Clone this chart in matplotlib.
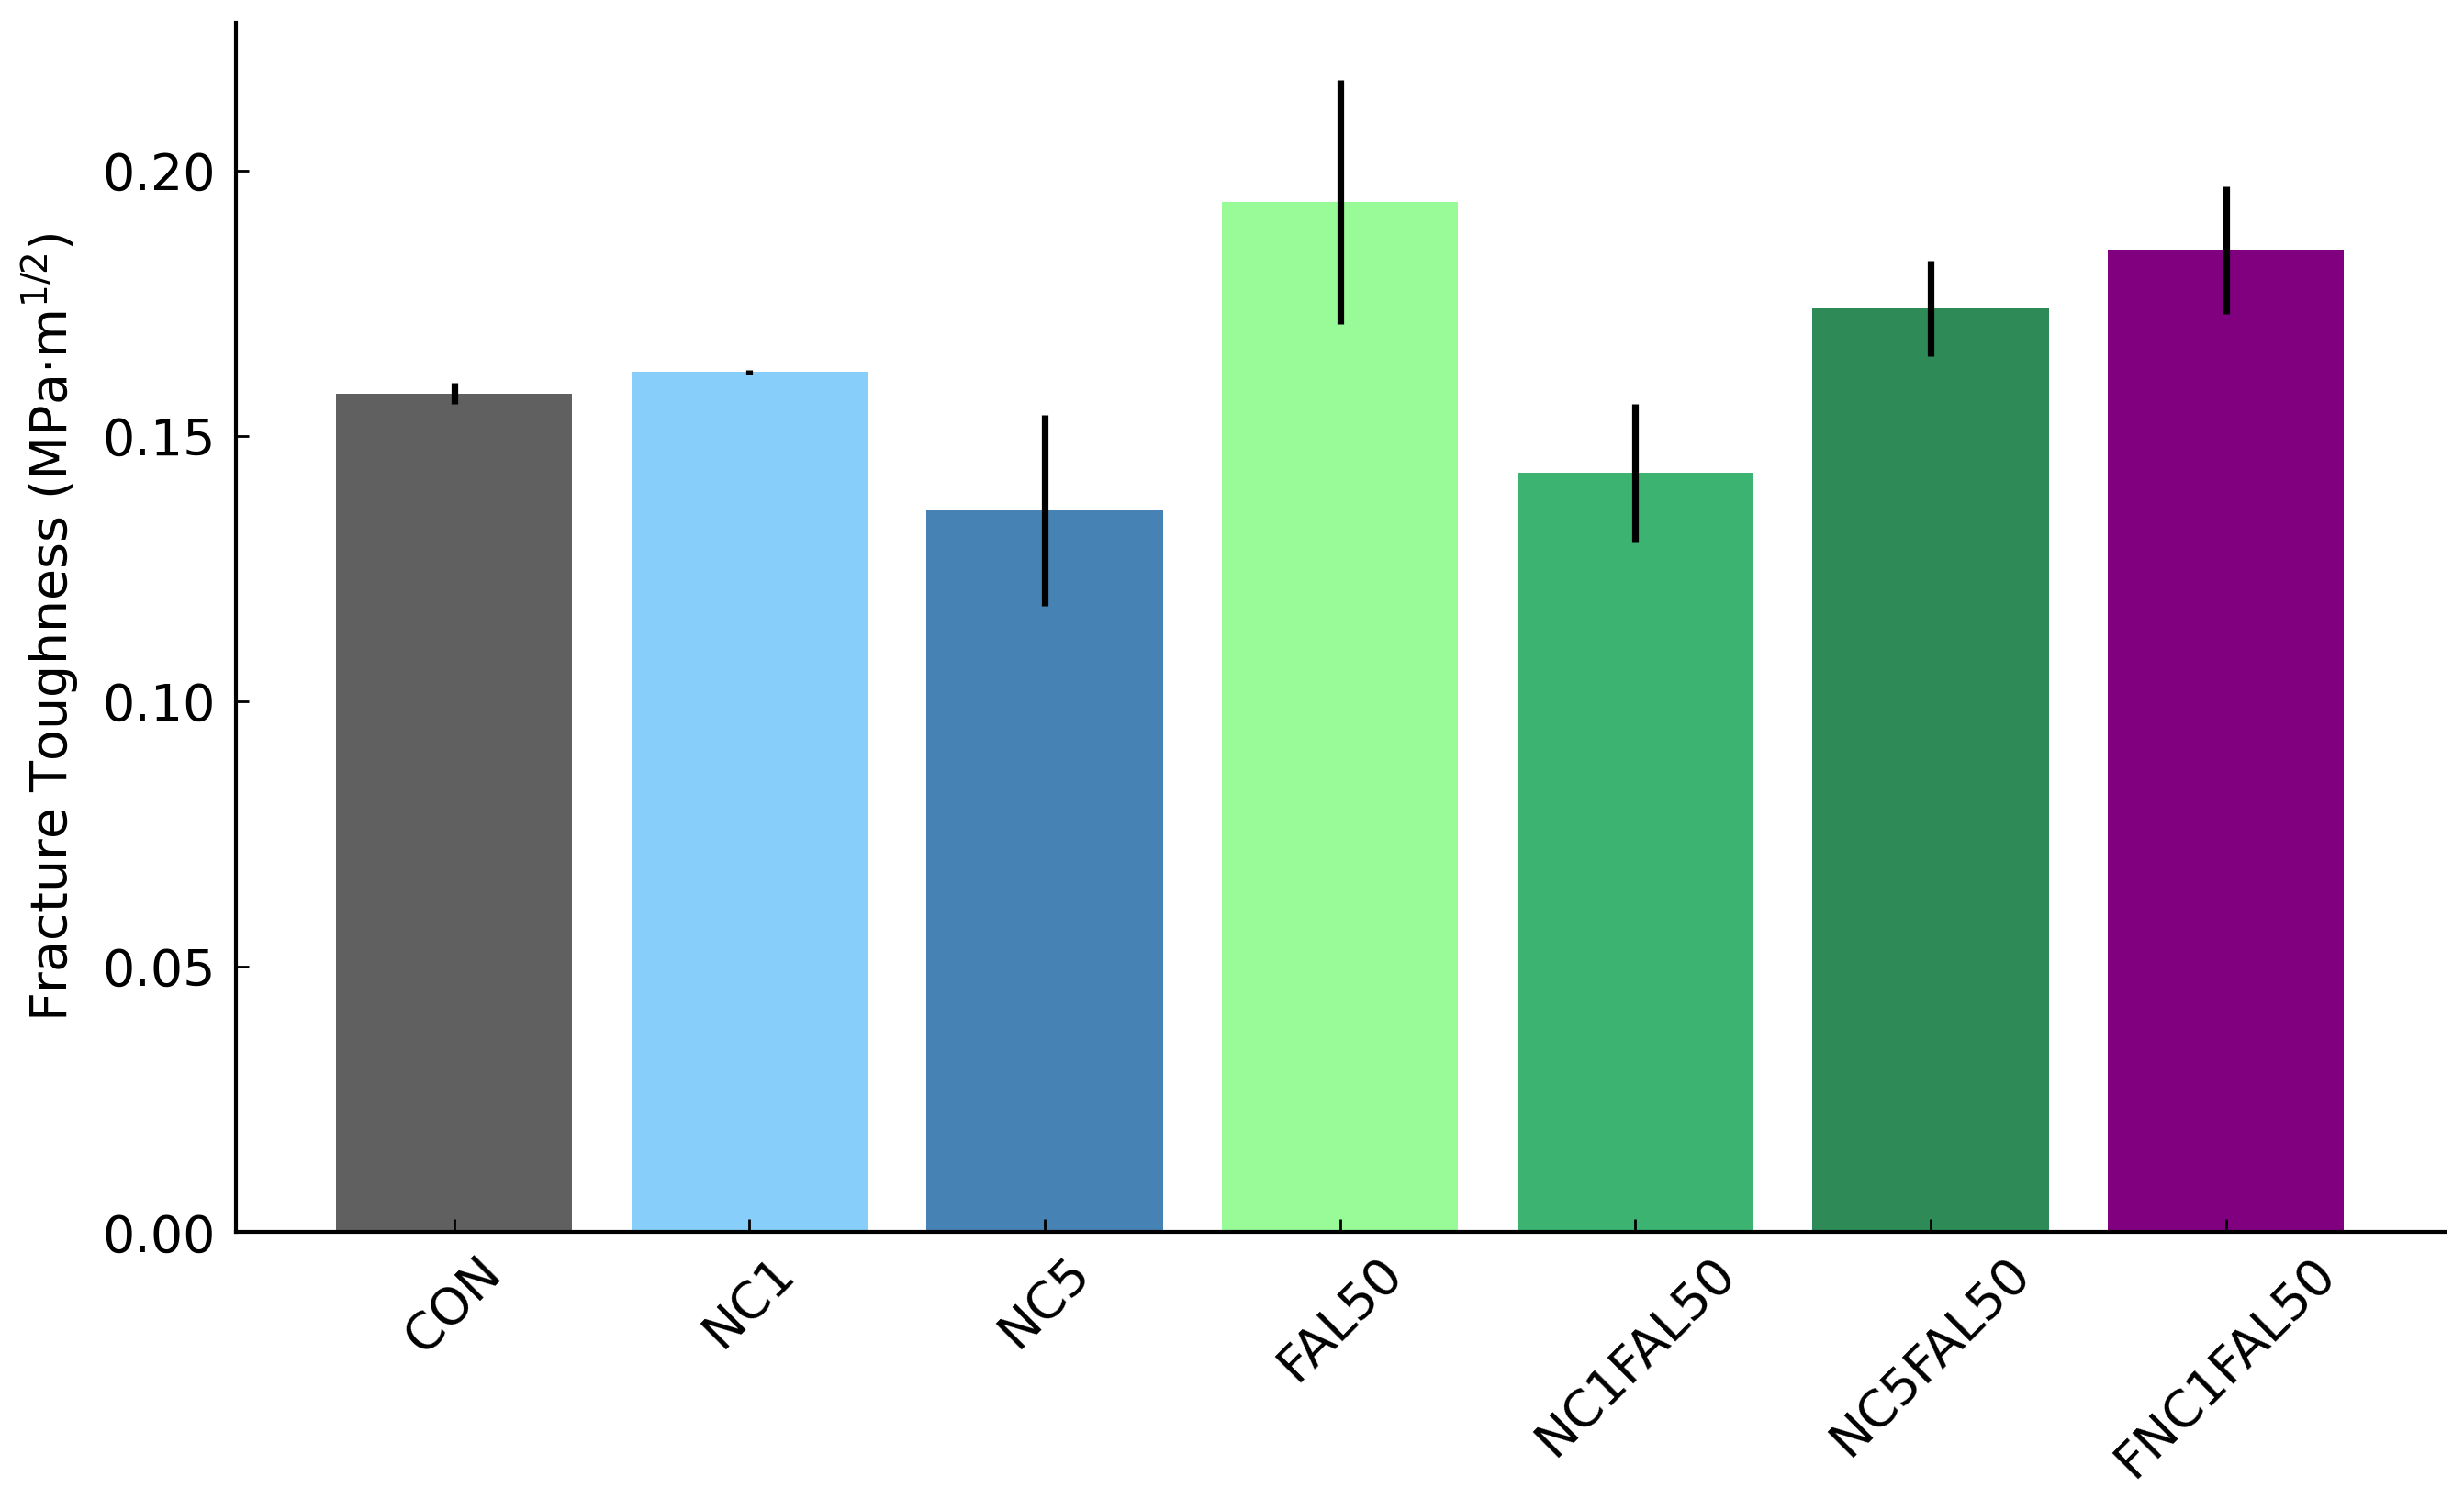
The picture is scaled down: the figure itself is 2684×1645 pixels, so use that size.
import matplotlib
matplotlib.use("Agg")
from matplotlib import pyplot as plt
import numpy as np

groups = ["CON", "NC1", "NC5", "FAL50", "NC1FAL50", "NC5FAL50", "FNC1FAL50"]
toughness = [0.158, 0.162, 0.136, 0.194, 0.143, 0.174, 0.185]
errors = [0.002, 0.0005, 0.018, 0.023, 0.013, 0.009, 0.012]
colors = ["#606060", "#87CEFA", "#4682B4", "#98FB98", "#3CB371", "#2E8B57", "#800080"]

fig, ax = plt.subplots(figsize=(13.42, 8.225), dpi=200)
fig.subplots_adjust(left=0.0957, right=0.992, top=0.985, bottom=0.184)

x = np.arange(len(groups))
ax.bar(x, toughness, width=0.8, color=colors, yerr=errors,
       error_kw=dict(ecolor="black", elinewidth=2.6, capsize=0))

ax.set_xticks(x)
ax.set_xticklabels(groups, rotation=45)
ax.set_yticks([0.0, 0.05, 0.10, 0.15, 0.20])
ax.set_ylabel(r"Fracture Toughness (MPa$\cdot$m$^{1/2}$)", fontsize=20, labelpad=8)

ax.tick_params(axis="both", direction="in", labelsize=20, length=5, width=1)
ax.tick_params(axis="y", pad=8)
ax.tick_params(axis="x", pad=6)

for side in ["top", "right"]:
    ax.spines[side].set_visible(False)
for side in ["left", "bottom"]:
    ax.spines[side].set_linewidth(1.5)

plt.savefig("out.png", dpi=200)
